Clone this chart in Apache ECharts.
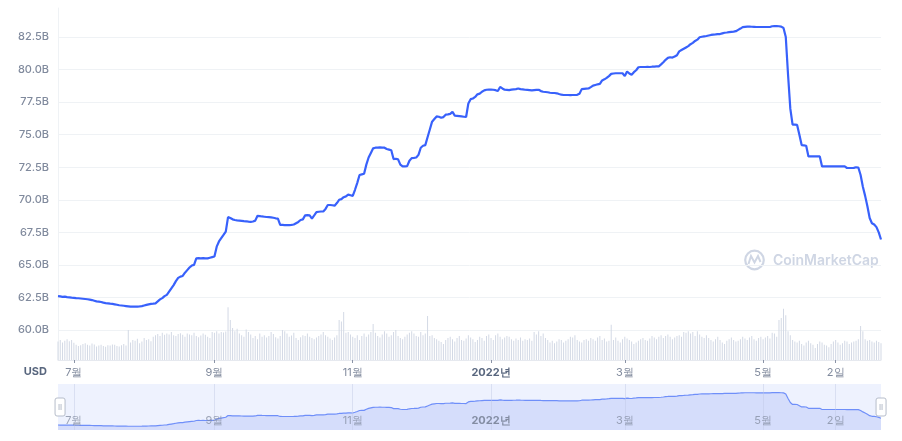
<!DOCTYPE html>
<html><head><meta charset="utf-8">
<script src="https://cdn.jsdelivr.net/npm/echarts@6/dist/echarts.min.js"></script>
<style>html,body{margin:0;padding:0;background:#fff}#c{width:902px;height:441px}</style>
</head><body><div id="c"></div>
<script>
// ---- data (USDT market cap, billions USD; daily) ----
const startDate = '2021-06-24';
const marketCap = [
62.6,62.58,62.55,62.56,62.52,62.5,62.48,62.47,62.45,62.44,
62.42,62.4,62.38,62.36,62.33,62.3,62.25,62.2,62.18,62.15,
62.1,62.07,62.05,62.02,62.0,61.97,61.94,61.9,61.88,61.86,
61.84,61.82,61.8,61.8,61.79,61.8,61.81,61.83,61.88,61.93,
61.97,62.0,62.02,62.05,62.2,62.35,62.45,62.6,62.7,62.95,
63.2,63.45,63.75,64.0,64.1,64.15,64.4,64.6,64.8,64.95,
65.0,65.5,65.52,65.5,65.52,65.5,65.5,65.55,65.6,65.65,
66.4,66.8,67.05,67.3,67.56,68.67,68.6,68.5,68.45,68.42,
68.4,68.38,68.36,68.35,68.32,68.3,68.33,68.4,68.77,68.75,
68.72,68.7,68.68,68.67,68.65,68.62,68.58,68.56,68.08,68.07,
68.06,68.05,68.05,68.07,68.1,68.2,68.3,68.45,68.5,68.8,
68.82,68.8,68.56,68.8,69.05,69.08,69.1,69.1,69.3,69.6,
69.6,69.58,69.55,69.75,70.0,70.05,70.2,70.26,70.4,70.35,
70.3,70.77,71.3,71.9,71.95,72.0,72.7,73.25,73.6,73.95,
74.0,74.0,74.02,74.0,74.0,73.9,73.85,73.8,73.13,73.15,
73.1,72.7,72.56,72.56,72.58,73.0,73.2,73.22,73.25,73.45,
74.0,74.15,74.2,74.8,75.4,76.0,76.2,76.4,76.38,76.3,
76.35,76.54,76.56,76.6,76.75,76.46,76.44,76.42,76.4,76.38,
76.36,77.4,77.73,77.78,77.9,78.1,78.15,78.3,78.4,78.45,
78.46,78.46,78.45,78.42,78.35,78.67,78.55,78.45,78.44,78.42,
78.46,78.48,78.5,78.55,78.5,78.48,78.45,78.44,78.42,78.4,
78.42,78.44,78.45,78.35,78.3,78.28,78.26,78.22,78.2,78.2,
78.18,78.12,78.07,78.05,78.05,78.05,78.04,78.05,78.05,78.06,
78.15,78.5,78.52,78.54,78.55,78.65,78.77,78.82,78.87,78.9,
79.17,79.25,79.36,79.5,79.67,79.7,79.72,79.72,79.72,79.72,
79.5,79.85,79.7,79.6,79.8,79.95,80.18,80.2,80.2,80.2,
80.21,80.2,80.22,80.23,80.24,80.25,80.4,80.56,80.75,80.9,
80.95,80.92,81.0,81.1,81.4,81.5,81.6,81.7,81.8,81.95,
82.05,82.2,82.3,82.48,82.52,82.55,82.58,82.62,82.66,82.69,
82.7,82.72,82.73,82.78,82.83,82.85,82.88,82.9,82.92,82.95,
83.05,83.15,83.26,83.28,83.3,83.3,83.29,83.28,83.27,83.27,
83.27,83.27,83.27,83.27,83.27,83.33,83.34,83.34,83.33,83.3,
83.2,82.5,79.6,77.0,75.77,75.77,75.75,75.0,74.2,74.18,
74.15,73.33,73.33,73.33,73.33,73.33,73.33,72.56,72.56,72.56,
72.56,72.56,72.56,72.56,72.56,72.56,72.56,72.56,72.44,72.44,
72.44,72.45,72.5,72.48,71.9,71.0,70.3,69.5,68.6,68.2,
68.1,67.9,67.5,66.95
];
const volume = [
46,50,44,48,52,47,50,43,
38,35,37,40,42,38,36,41,39,
34,36,38,35,33,37,36,39,38,35,34,37,40,36,
75,
44,50,48,53,42,46,55,50,52,47,
58,62,65,60,68,63,66,64,70,62,60,65,67,63,58,66,64,62,68,60,57,61,66,63,58,55,
70,68,72,66,70,69,71,
132,100,80,72,78,66,
62,58,76,70,64,55,60,52,66,58,62,56,60,70,65,57,54,60,75,72,66,58,61,68,55,50,57,62,60,66,58,55,52,56,60,64,70,62,58,54,50,56,62,
100,96,120,
68,70,64,58,55,62,50,60,66,58,64,70,
90,
68,60,56,64,72,66,58,62,70,75,60,55,52,58,64,68,72,66,60,58,70,62,66,
110,
60,62,55,52,48,45,40,50,55,
58,52,46,55,60,50,48,54,62,56,52,45,50,58,55,48,60,64,55,50,62,66,58,52,56,60,58,52,48,54,50,56,48,52,50,54,48,
70,64,72,60,66,
55,50,44,48,42,46,52,50,44,48,52,58,56,62,50,46,44,50,52,48,55,52,48,56,60,50,54,46,48,
88,
50,56,48,44,52,58,54,50,46,40,44,48,52,55,50,48,54,60,56,52,58,62,55,60,64,58,52,56,60,62,58,
70,68,72,66,70,60,72,64,58,55,62,
55,50,46,52,58,50,44,40,48,52,56,50,46,48,52,58,54,50,56,60,52,48,55,58,52,56,60,54,
68,66,58,
100,105,128,112,72,62,
50,46,44,48,40,36,44,48,42,38,30,40,46,44,38,36,32,40,46,50,44,38,42,48,46,40,44,46,48,52,
85,72,
52,48,50,46,44,48,45,42
];
const tickDates  = ['2021-07-01','2021-09-01','2021-11-01','2022-01-01','2022-03-01','2022-05-01','2022-06-02'];
const tickLabels = ['7월','9월','11월','2022년','3월','5월','2일'];
const boldLabels = ['2022년'];

// ---- build categories ----
const dates = [];
const t0 = Date.parse(startDate + 'T00:00:00Z');
for (let i = 0; i < marketCap.length; i++) {
  dates.push(new Date(t0 + i * 86400000).toISOString().slice(0, 10));
}
const isTick = (i, v) => tickDates.indexOf(v) >= 0;
const fmt = v => {
  const k = tickDates.indexOf(v);
  if (k < 0) return '';
  const s = tickLabels[k];
  return boldLabels.indexOf(s) >= 0 ? '{b|' + s + '}' : s;
};
const FONT = 'Inter';
const chart = echarts.init(document.getElementById('c'), null, {renderer: 'canvas'});
chart.setOption({
  animation: false,
  backgroundColor: '#fff',
  grid: [
    {left: 58, right: 21, top: 8, height: 322},
    {left: 58, right: 21, top: 300, height: 60},
    {left: 58, right: 21, top: 384, height: 46, show: true, backgroundColor: '#eef2fe', borderWidth: 0}
  ],
  xAxis: [
    {type: 'category', gridIndex: 0, data: dates, boundaryGap: false, show: false},
    {type: 'category', gridIndex: 1, data: dates, boundaryGap: false,
      axisLine: {lineStyle: {color: '#e6e9ef'}},
      axisTick: {interval: isTick, length: 3, lineStyle: {color: '#8a93a6'}},
      axisLabel: {interval: isTick, formatter: fmt, color: '#808a9d', fontSize: 11, fontFamily: FONT, margin: 7,
        rich: {b: {fontWeight: 'bold', color: '#58667e', fontSize: 11, fontFamily: FONT}}}},
    {type: 'category', gridIndex: 2, data: dates, boundaryGap: false, z: 10,
      axisLine: {show: false}, axisTick: {show: false},
      splitLine: {show: true, interval: isTick, lineStyle: {color: 'rgba(190,200,228,0.45)'}},
      axisLabel: {inside: true, interval: isTick, formatter: fmt, color: 'rgba(128,138,157,0.75)', fontSize: 11, fontFamily: FONT, margin: 4,
        rich: {b: {fontWeight: 'bold', color: 'rgba(110,120,140,0.8)', fontSize: 11, fontFamily: FONT}}}}
  ],
  yAxis: [
    {type: 'value', gridIndex: 0, min: 60, max: 84.73, interval: 2.5,
      axisLine: {show: true, lineStyle: {color: '#eff2f5'}}, axisTick: {show: false},
      splitLine: {lineStyle: {color: '#eff2f5'}, showMaxLine: false},
      axisLabel: {formatter: v => v.toFixed(1) + 'B', showMaxLabel: false, color: '#808a9d', fontSize: 11, fontFamily: FONT, fontWeight: 500, margin: 9}},
    {type: 'value', gridIndex: 1, min: 0, max: 150,
      axisLine: {show: true, lineStyle: {color: '#eff2f5'}}, axisTick: {show: false},
      splitLine: {show: false}, axisLabel: {show: false}},
    {type: 'value', gridIndex: 2, min: 59.4, max: 88.9, show: false, splitLine: {show: false}}
  ],
  dataZoom: [{
    type: 'slider', xAxisIndex: [0, 1, 2], left: 58, right: 21, top: 384, height: 46,
    start: 0, end: 100, showDataShadow: false, showDetail: false, brushSelect: false,
    backgroundColor: 'rgba(0,0,0,0)', fillerColor: 'rgba(0,0,0,0)', borderColor: 'rgba(0,0,0,0)',
    moveHandleSize: 0,
    handleIcon: 'path://M2,0 L8,0 Q10,0 10,2 L10,16 Q10,18 8,18 L2,18 Q0,18 0,16 L0,2 Q0,0 2,0 Z M4,6 L4,12 M6,6 L6,12',
    handleSize: 18,
    handleStyle: {color: '#ffffff', borderColor: '#b6bdcb', borderWidth: 1}
  }],
  series: [
    {type: 'line', xAxisIndex: 0, yAxisIndex: 0, data: marketCap, showSymbol: false, z: 5,
      lineStyle: {color: '#3861fb', width: 2.2}},
    {type: 'bar', xAxisIndex: 1, yAxisIndex: 1, data: volume, barWidth: 1,
      itemStyle: {color: '#d3d9e5'}},
    {type: 'line', xAxisIndex: 2, yAxisIndex: 2, data: marketCap, showSymbol: false,
      lineStyle: {color: '#6f8ff9', width: 1.2}, areaStyle: {color: '#d5ddfb', opacity: 1}}
  ],
  graphic: [
    {type: 'text', x: 47, y: 372, style: {text: 'USD', align: 'right', verticalAlign: 'middle', font: 'bold 11px Inter', fill: '#58667e'}},
    {type: 'group', silent: true, children: [
      {type: 'circle', shape: {cx: 754.5, cy: 260, r: 9.3}, style: {stroke: '#cfd6e4', fill: null, lineWidth: 2.2}},
      {type: 'polyline', shape: {points: [[748.5, 264], [751, 256], [754.5, 262.5], [758, 256], [760.5, 262]]}, style: {stroke: '#cfd6e4', fill: null, lineWidth: 2}},
      {type: 'text', x: 773, y: 260.5, style: {text: 'CoinMarketCap', verticalAlign: 'middle', font: '600 14px Inter', fill: '#cfd6e4'}}
    ]}
  ]
});
</script></body></html>
